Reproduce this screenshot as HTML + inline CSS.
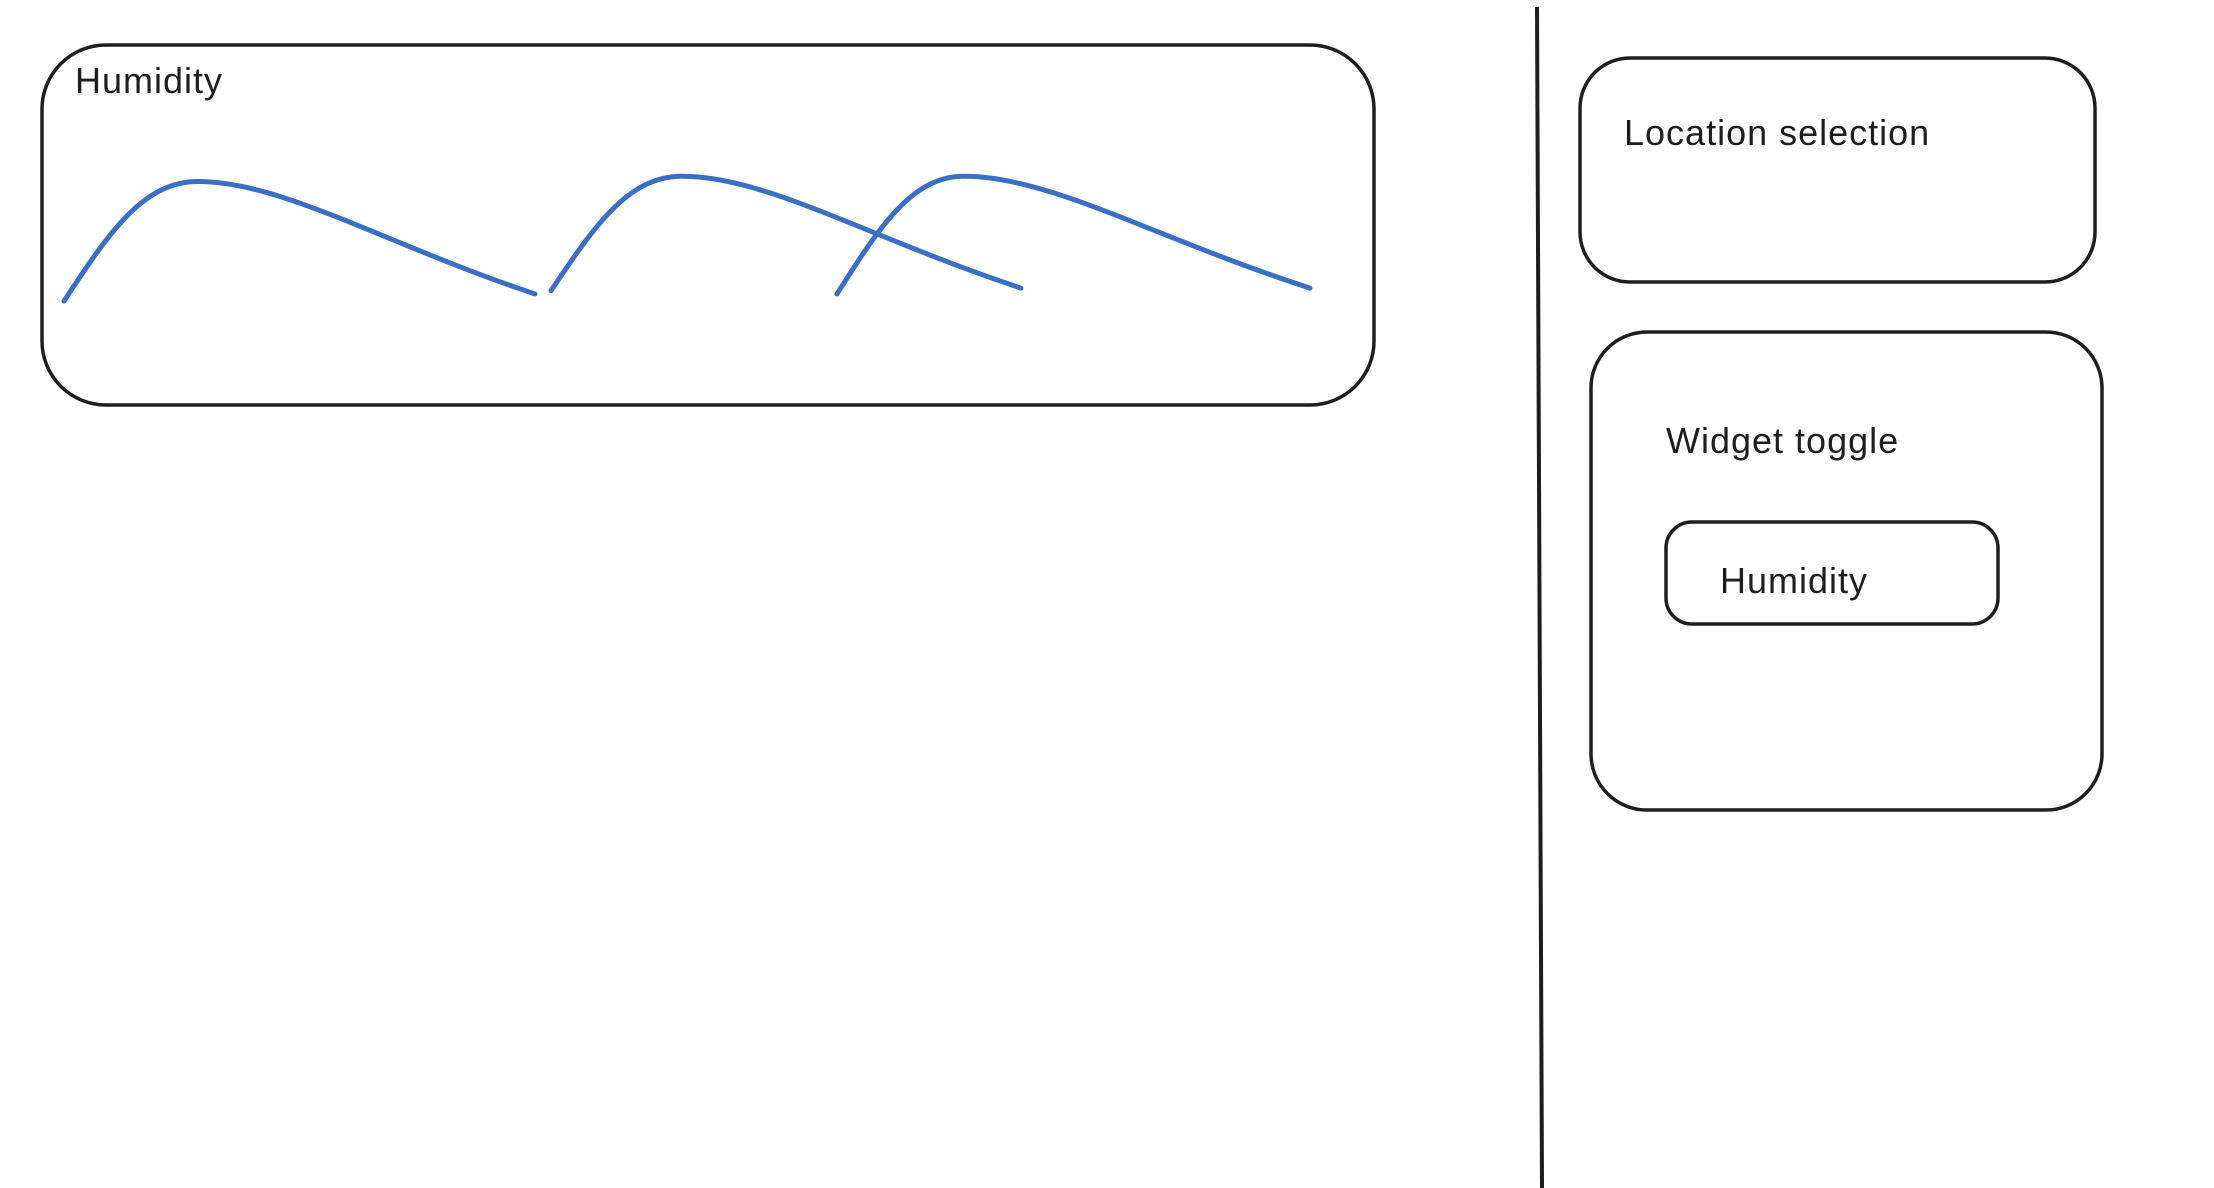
<!DOCTYPE html>
<html>
<head>
<meta charset="utf-8">
<style>
  html,body{margin:0;padding:0;background:#fff;}
  body{width:2214px;height:1188px;position:relative;overflow:hidden;font-family:"Liberation Sans",sans-serif;color:#1e1e1e;}
  .txt{position:absolute;font-size:36px;white-space:nowrap;letter-spacing:1px;}
</style>
</head>
<body>
<svg width="2214" height="1188" style="position:absolute;left:0;top:0">
  <rect x="42" y="45" width="1332" height="360" rx="64" fill="none" stroke="#1e1e1e" stroke-width="3.5"/>
  <line x1="1537" y1="7" x2="1542" y2="1188" stroke="#1e1e1e" stroke-width="4"/>
  <rect x="1580" y="58" width="515" height="224" rx="50" fill="none" stroke="#1e1e1e" stroke-width="3.5"/>
  <rect x="1591" y="332" width="511" height="478" rx="56" fill="none" stroke="#1e1e1e" stroke-width="3.5"/>
  <rect x="1666" y="522" width="332" height="102" rx="26" fill="none" stroke="#1e1e1e" stroke-width="3.5"/>
  <g id="chart"></g>
</svg>
<div class="txt" style="left:75px;top:60px">Humidity</div>
<div class="txt" style="left:1624px;top:112px">Location selection</div>
<div class="txt" style="left:1666px;top:420px">Widget toggle</div>
<div class="txt" style="left:1720px;top:560px">Humidity</div>
<script>
// Each wave: start point, peak, end point (x in time units, y in humidity units)
const waveStartX = [0, 9.74, 15.46];
const waveStartY = [3, 11, 8.5];
const wavePeakX  = [2.68, 12.36, 18.0];
const wavePeakY  = [95, 99, 99];
const waveEndX   = [9.42, 19.14, 24.92];
const waveEndY   = [8.5, 13, 13];
const seriesNames = ['wave-1','wave-2','wave-3'];

const X0 = 64, XS = 50;
const Y0 = 305, YS = 1.3;
function sx(v){ return X0 + v * XS; }
function sy(v){ return Y0 - v * YS; }

const g = document.getElementById('chart');
for (let i = 0; i < seriesNames.length; i++) {
  const x1 = sx(waveStartX[i]), y1 = sy(waveStartY[i]);
  const xp = sx(wavePeakX[i]), yp = sy(wavePeakY[i]);
  const x2 = sx(waveEndX[i]), y2 = sy(waveEndY[i]);
  const dx1 = xp - x1, dy1 = y1 - yp, dx2 = x2 - xp, dy2 = y2 - yp;
  const d = `M${x1},${y1} C${x1 + dx1 * 0.35},${y1 - dy1 * 0.6} ${xp - dx1 * 0.4},${yp} ${xp},${yp} C${xp + dx2 * 0.25},${yp} ${xp + dx2 * 0.55},${yp + dy2 * 0.55} ${x2},${y2}`;
  const p = document.createElementNS('http://www.w3.org/2000/svg', 'path');
  p.setAttribute('d', d);
  p.setAttribute('fill', 'none');
  p.setAttribute('stroke', '#3a6fc4');
  p.setAttribute('stroke-width', '5');
  p.setAttribute('stroke-linecap', 'round');
  
  
  g.appendChild(p);
}
</script>
</body>
</html>
